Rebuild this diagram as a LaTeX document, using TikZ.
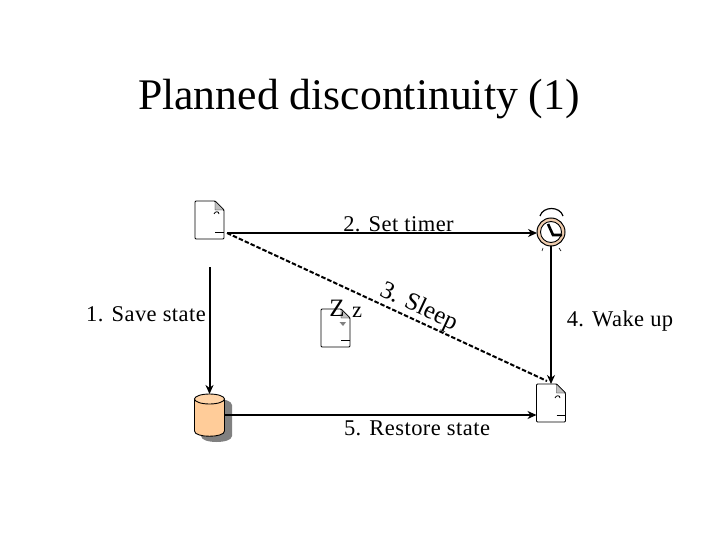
\documentclass[tikz,border=0pt]{standalone}
\usepackage{fontspec}
\setmainfont{Liberation Serif}
\newfontfamily\spaced[LetterSpace=2]{Liberation Serif}
\usetikzlibrary{arrows.meta,calc}
\definecolor{tanfill}{HTML}{FFCC99}
\definecolor{ringfill}{HTML}{F0CDAE}
\definecolor{foldgrey}{HTML}{C0C0C0}
\definecolor{shadowgrey}{HTML}{808080}
\tikzset{
  x=1pt,y=-1pt,
  label text/.style={font=\fontsize{22.5}{26}\selectfont\spaced,anchor=base,inner sep=0pt},
  sleep text/.style={font=\fontsize{25}{28}\selectfont,anchor=base,inner sep=0pt},
  title text/.style={font=\fontsize{43.7}{50}\selectfont,anchor=base,inner sep=0pt},
  doc frame/.style={minimum width=29pt,minimum height=38pt,inner sep=0pt,outer sep=0pt},
  cyl frame/.style={minimum width=30pt,minimum height=42pt,inner sep=0pt,outer sep=0pt},
  clock frame/.style={circle,minimum size=28pt,inner sep=0pt,outer sep=0pt},
  link/.style={line width=2pt,-{Stealth[length=9pt,width=8pt]}},
  dashlink/.style={line width=2pt,dash pattern=on 4.5pt off 2pt}
}
\newcommand{\docicon}[1]{%
  \draw[line width=.9pt,rounded corners=1pt,fill=white] (#1.north west) -- ($(#1.north east)+(-9,0)$) -- ($(#1.north east)+(0,9)$) -- (#1.south east) -- (#1.south west) -- cycle;
  \fill[foldgrey,draw=black,line width=.4pt] ($(#1.north east)+(-9,0)$) -- ($(#1.north east)+(0,9)$) -- ($(#1.north east)+(-9,9)$) -- cycle;
  \draw[line width=.8pt] ($(#1.south east)+(-9,-7)$) -- ($(#1.south east)+(0,-7)$);
}
\begin{document}
\begin{tikzpicture}
\useasboundingbox (0,0) rectangle (720,540);
\node[title text] (title) at (359,110) {Planned discontinuity (1)};

\node[doc frame] (doc1) at (209.5,220) {};
\node[doc frame] (doc2) at (335.5,328) {};
\node[doc frame] (doc3) at (551,403) {};
\node[cyl frame] (cyl) at (209.5,415) {};
\node[clock frame] (clock) at (551,232) {};
\coordinate (start) at (209.5,267);

\docicon{doc1}\docicon{doc2}\docicon{doc3}
\draw[line width=.8pt] (214,214) .. controls (215,211) and (219,211) .. (219,214);
\draw[line width=.8pt] (555,398) .. controls (556,395) and (560,395) .. (560,398);
\fill[gray] (339.5,322) -- (346,322) -- (343,326) -- cycle;

% database: shadow, body, lid
\fill[shadowgrey] (201,405) .. controls (201,397) and (232,397) .. (232,405) -- (232,436) .. controls (232,444) and (201,444) .. (201,436) -- cycle;
\draw[line width=.9pt,fill=tanfill] (194.5,399) -- (194.5,431) .. controls (194.5,438) and (224.5,438) .. (224.5,431) -- (224.5,399) -- cycle;
\draw[line width=.9pt,fill=tanfill!85!white] ($(cyl.north)+(0,5)$) ellipse[x radius=15,y radius=5];

% clock
\draw[line width=1.2pt] (540,216) .. controls (543,206) and (560,206) .. (563,216);
\draw[line width=1pt,fill=ringfill] (clock) circle[radius=14];
\draw[line width=.9pt,fill=white] (clock) circle[radius=10.5];
\draw[line width=2.6pt] (548,224) -- (553,235) -- (562,235);
\draw[line width=.6pt] (543,248) -- (542,251) (559,248) -- (561,251);

\draw[link] ($(doc1.east |- clock.west)+(3,1)$) -- ($(clock.west)+(0,1)$);
\draw[link] (start) -- (cyl.north);
\draw[link] (clock.south) -- (doc3.north);
\draw[link] (cyl.east) -- (doc3.west |- cyl.east);
\draw[dashlink] ($(doc1.south east)+(3,-6)$) -- ($(doc3.north)+(-4,-3)$);

\node[label text] (lset) at (398.5,231) {2. Set timer};
\node[label text] (lsave) at (146,321) {1. Save state};
\node[label text] (lwake) at (620,326) {4. Wake up};
\node[label text] (lrest) at (417,435) {5. Restore state};
\node[sleep text,rotate=-25] (lsleep) at (416,313) {3. Sleep};
\node[sleep text] (zbig) at (337,316) {Z};
\node[label text] (zsmall) at (357,317) {z};
\end{tikzpicture}
\end{document}
